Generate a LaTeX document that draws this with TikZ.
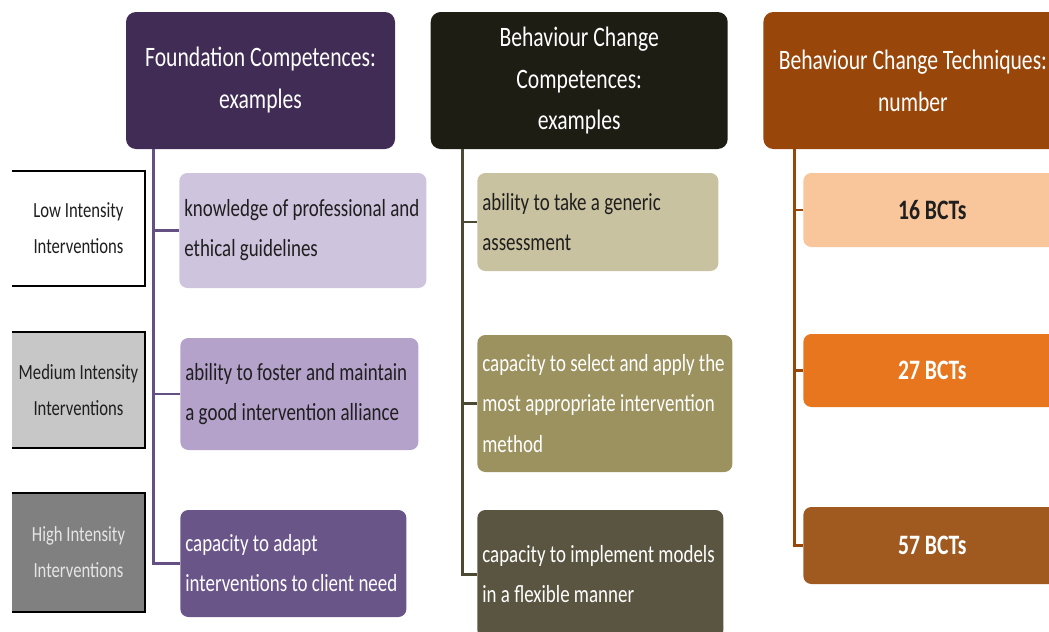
\documentclass[tikz,border=0pt]{standalone}
\usepackage{fontspec}
\setmainfont{Carlito}[FakeStretch=0.77]
\usetikzlibrary{positioning}
\hyphenpenalty=10000

\definecolor{foundhead}{HTML}{402C54}
\definecolor{foundline}{HTML}{645082}
\definecolor{foundA}{HTML}{CFC4DE}
\definecolor{foundB}{HTML}{B4A2CB}
\definecolor{foundC}{HTML}{6A5589}
\definecolor{bcchead}{HTML}{1E1D14}
\definecolor{bccline}{HTML}{4B4834}
\definecolor{bccA}{HTML}{C9C2A0}
\definecolor{bccB}{HTML}{9C9260}
\definecolor{bccC}{HTML}{5A5540}
\definecolor{bcthead}{HTML}{98460A}
\definecolor{bctA}{HTML}{F9C59B}
\definecolor{bctB}{HTML}{E8761F}
\definecolor{bctC}{HTML}{A05A20}
\definecolor{darktext}{HTML}{1F1F1F}

\tikzstyle{head} = [rectangle, rounded corners=0.2cm, minimum height=2.74cm, inner sep=0pt, text centered, align=center, text=white, font=\fontsize{16}{23.9}\selectfont]
\tikzstyle{level} = [rectangle, minimum width=2.66cm, minimum height=2.3cm, inner sep=0pt, text centered, align=center, font=\fontsize{12.3}{20.5}\selectfont]
\tikzstyle{frame} = [line width=1.2pt, black]
\tikzstyle{comp} = [rectangle, rounded corners=0.16cm, anchor=west, inner xsep=0.1cm, inner ysep=0pt, align=flush left, font=\fontsize{14}{22.8}\selectfont]
\tikzstyle{bctbox} = [rectangle, rounded corners=0.16cm, anchor=west, minimum width=5.16cm, inner sep=0pt, text centered, font=\bfseries\fontsize{16}{20}\selectfont]
\tikzstyle{branch} = [line width=1.7pt]

\begin{document}
\begin{tikzpicture}
\useasboundingbox (0,0) rectangle (20.98,-12.64);
\clip (0,0) rectangle (20.98,-12.64);

% column headers
\node (found) [head, fill=foundhead, minimum width=5.38cm] at (5.21,-1.61) {Foundation Competences:\\ examples};
\node (bcc) [head, fill=bcchead, minimum width=5.94cm, right=0.7cm of found] {Behaviour Change\\ Competences:\\ examples};
\node (bct) [head, fill=bcthead, minimum width=5.98cm, right=0.7cm of bcc] {Behaviour Change Techniques:\\ number};

% intensity levels
\node (low) [level, fill=white, text=darktext] at (1.57,-4.57) {Low Intensity\\ Interventions};
\node (medium) [level, fill=black!22, text=darktext, below=0.92cm of low] {Medium Intensity\\ Interventions};
\node (high) [level, fill=black!50, text=black!10, minimum height=2.36cm, below=0.9cm of medium] {High Intensity\\ Interventions};

\draw [frame] (low.north west) -| (low.south east) -- (low.south west);
\draw [frame] (medium.north west) -| (medium.south east) -- (medium.south west);
\draw [frame] (high.north west) -| (high.south east) -- (high.south west);

% foundation competences
\node (fA) [comp, fill=foundA, text=darktext, text width=4.74cm, minimum height=2.3cm] at (3.58,-4.61) {knowledge of professional and\\ ethical guidelines};
\node (fB) [comp, fill=foundB, text=darktext, text width=4.56cm, minimum height=2.24cm] at (3.6,-7.88) {ability to foster and maintain\\ a good intervention alliance};
\node (fC) [comp, fill=foundC, text=white, text width=4.32cm, minimum height=2.14cm] at (3.6,-11.27) {capacity to adapt\\ interventions to client need};

% behaviour change competences
\node (bA) [comp, fill=bccA, text=darktext, text width=4.62cm, minimum height=1.96cm] at (9.54,-4.44) {ability to take a generic\\ assessment};
\node (bB) [comp, fill=bccB, text=white, text width=4.9cm, minimum height=2.74cm] at (9.54,-8.07) {capacity to select and apply the\\ most appropriate intervention\\ method};
\node (bC) [comp, fill=bccC, text=white, text width=4.72cm, minimum height=2.56cm] at (9.54,-11.48) {capacity to implement models\\ in a flexible manner};

% behaviour change techniques
\node (tA) [bctbox, fill=bctA, text=darktext, minimum height=1.48cm] at (16.06,-4.2) {16 BCTs};
\node (tB) [bctbox, fill=bctB, text=white, minimum height=1.46cm] at (16.06,-7.41) {27 BCTs};
\node (tC) [bctbox, fill=bctC, text=white, minimum height=1.54cm] at (16.06,-10.91) {57 BCTs};

\coordinate (ftrunk) at ([xshift=0.56cm]found.south west);
\coordinate (btrunk) at ([xshift=0.64cm]bcc.south west);
\coordinate (ttrunk) at ([xshift=0.62cm]bct.south west);

\draw [branch, foundline] (ftrunk) |- (fA.west);
\draw [branch, foundline] (ftrunk) |- (fB.west);
\draw [branch, foundline] (ftrunk) |- (fC.west);

\draw [branch, bccline] (btrunk) |- (bA.west);
\draw [branch, bccline] (btrunk) |- (bB.west);
\draw [branch, bccline] (btrunk) |- (bC.west);

\draw [branch, bcthead] (ttrunk) |- (tA.west);
\draw [branch, bcthead] (ttrunk) |- (tB.west);
\draw [branch, bcthead] (ttrunk) |- (tC.west);

\end{tikzpicture}
\end{document}
